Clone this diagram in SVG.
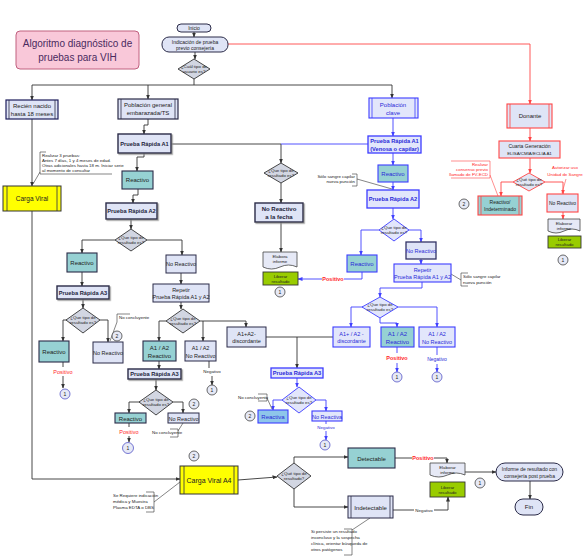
<svg xmlns="http://www.w3.org/2000/svg" width="587" height="558" viewBox="0 0 587 558">
<style>
text{font-family:"Liberation Sans",Arial,sans-serif;text-anchor:middle;fill:#222}
.s4{font-size:4.4px}.s5{font-size:5px}.s55{font-size:5.5px}.s6{font-size:6px}.s65{font-size:6.5px}
.bd{font-weight:bold;fill:#1e1e3a}
.sb{font-size:5.7px}
.tb{fill:#2a2ad8}.tr{fill:#ff1f1f}
.la{text-anchor:start}.ra{text-anchor:end}
.bx{fill:#dfe4f6;stroke:#2b2b48;stroke-width:1}
.bbx{fill:#dfe4f6;stroke:#2b2b48;stroke-width:1.4;filter:url(#sh)}
.tl{fill:#96d1d3;stroke:#2b2b48;stroke-width:1.1}
.bl{fill:#e2e6fb;stroke:#3c3cff;stroke-width:1.1}
.bltl{fill:#96d1d3;stroke:#3c3cff;stroke-width:1.1}
.rd{fill:#dfe4f6;stroke:#ff4545;stroke-width:1.1}
.dm{fill:#d2d6e2;stroke:#333;stroke-width:0.9}
.dmb{fill:#e2e6fb;stroke:#3c3cff;stroke-width:0.9}
.dmr{fill:#e2e6f4;stroke:#ff4545;stroke-width:0.9}
.gr{fill:#99cc00;stroke:#333;stroke-width:0.9}
.yl{fill:#ffff00;stroke:#333;stroke-width:1}
.dc{fill:#e6e9f6;stroke:#444;stroke-width:0.8}
.c1{fill:#e6e9f6;stroke:#5656c8;stroke-width:0.8}
.c2{fill:#e6e9f6;stroke:#444;stroke-width:0.8}
.k{fill:none;stroke:#333;stroke-width:0.9}
.kb{fill:none;stroke:#4040ff;stroke-width:0.9}
.kr{fill:none;stroke:#ff4545;stroke-width:0.9}
.an{fill:none;stroke:#333;stroke-width:0.6}
.anr{fill:none;stroke:#ff4545;stroke-width:0.6}
.ln{stroke:#2b2b48;stroke-width:0.8}
.lnb{stroke:#3c3cff;stroke-width:0.8}
.lnr{stroke:#ff4545;stroke-width:0.8}
</style>
<defs>
<filter id="sh" x="-10%" y="-10%" width="130%" height="140%"><feDropShadow dx="1.2" dy="1.2" stdDeviation="0.4" flood-color="#888" flood-opacity="0.8"/></filter>
<marker id="a" markerWidth="5" markerHeight="4" refX="4.5" refY="2" orient="auto" markerUnits="userSpaceOnUse"><path d="M0,0 L5,2 L0,4 z" fill="#333"/></marker>
<marker id="ab" markerWidth="5" markerHeight="4" refX="4.5" refY="2" orient="auto" markerUnits="userSpaceOnUse"><path d="M0,0 L5,2 L0,4 z" fill="#4040ff"/></marker>
<marker id="ar" markerWidth="5" markerHeight="4" refX="4.5" refY="2" orient="auto" markerUnits="userSpaceOnUse"><path d="M0,0 L5,2 L0,4 z" fill="#ff4545"/></marker>
</defs>
<rect width="587" height="558" fill="#fff"/>

<g id="connectors">
<path class="k" d="M194,32 V37" marker-end="url(#a)"/>
<path class="k" d="M195,52 V59" marker-end="url(#a)"/>
<path class="k" d="M194,79 V85 M32,85 H392"/>
<path class="k" d="M32,85 V100" marker-end="url(#a)"/>
<path class="k" d="M148,85 V99" marker-end="url(#a)"/>
<path class="k" d="M392,85 V98" marker-end="url(#a)"/>
<path class="kr" d="M228,44 H530 V104" marker-end="url(#ar)"/>
<path class="kr" d="M530,128 V141" marker-end="url(#ar)"/>
<path class="kr" d="M530,158 V173" marker-end="url(#ar)"/>
<path class="kr" d="M513,182 H501 V196" marker-end="url(#ar)"/>
<path class="kr" d="M545,182 H563 V194" marker-end="url(#ar)"/>
<path class="kr" d="M563,212 V219" marker-end="url(#ar)"/>
<path class="anr" d="M490,175 L498,196"/>
<path class="anr" d="M566,179 L562,193"/>
<path class="k" d="M32,119 V186" marker-end="url(#a)"/>
<path class="an" d="M40,172 L33,184"/>
<path class="k" d="M32,211 V479 H180" marker-end="url(#a)"/>
<path class="k" d="M148,119 V125 H144 V134" marker-end="url(#a)"/>
<path class="k" d="M171,144 H281 V163" marker-end="url(#a)"/>
<path class="k" d="M144,153 V157 H137 V171" marker-end="url(#a)"/>
<path class="k" d="M138,189 V195 H133 V203" marker-end="url(#a)"/>
<path class="k" d="M131,219 V229" marker-end="url(#a)"/>
<path class="k" d="M115,240 H82 V253" marker-end="url(#a)"/>
<path class="k" d="M147,240 H182 V255" marker-end="url(#a)"/>
<path class="k" d="M82,272 V286" marker-end="url(#a)"/>
<path class="k" d="M83,299 V308" marker-end="url(#a)"/>
<path class="k" d="M67,320 H63 V341" marker-end="url(#a)"/>
<path class="k" d="M100,320 H108 V342" marker-end="url(#a)"/>
<path class="an" d="M117,322 L110,341"/>
<path class="k" d="M63,362 V367 M63,376 V388" marker-end="url(#a)"/>
<path class="k" d="M181,273 V284" marker-end="url(#a)"/>
<path class="k" d="M181,302 V309" marker-end="url(#a)"/>
<path class="k" d="M166,321 H159 V341" marker-end="url(#a)"/>
<path class="k" d="M200,321 H246 V327" marker-end="url(#a)"/>
<path class="k" d="M203,321 V341" marker-end="url(#a)"/>
<path class="k" d="M159,361 V369" marker-end="url(#a)"/>
<path class="k" d="M156,379 V390" marker-end="url(#a)"/>
<path class="k" d="M140,402 H129 V413" marker-end="url(#a)"/>
<path class="k" d="M173,402 H183 V413" marker-end="url(#a)"/>
<path class="k" d="M129,423 V427 M129,436 V442" marker-end="url(#a)"/>
<path class="an" d="M178,431 L183,423"/>
<path class="k" d="M209,361 V368 M212,376 V385" marker-end="url(#a)"/>
<path class="k" d="M333,337 H266"/>
<path class="k" d="M297,337 V368" marker-end="url(#a)"/>
<path class="k" d="M281,183 V203" marker-end="url(#a)"/>
<path class="k" d="M281,222 V252" marker-end="url(#a)"/>
<path class="kb" d="M393,118 V136" marker-end="url(#ab)"/>
<path class="kb" d="M368,144 H281"/>
<path class="kb" d="M393,153 V165" marker-end="url(#ab)"/>
<path class="kb" d="M393,182 V190" marker-end="url(#ab)"/>
<path class="an" d="M357,179 L392,189"/>
<path class="kb" d="M393,208 V219" marker-end="url(#ab)"/>
<path class="kb" d="M379,230 H361 V255" marker-end="url(#ab)"/>
<path class="kb" d="M409,230 H421 V242" marker-end="url(#ab)"/>
<path class="kb" d="M362,272 V279 H298" marker-end="url(#ab)"/>
<path class="kb" d="M421,259 V264" marker-end="url(#ab)"/>
<path class="an" d="M451,274 L461,280"/>
<path class="kb" d="M422,282 V288 H380 V297" marker-end="url(#ab)"/>
<path class="kb" d="M363,307 H351 V327" marker-end="url(#ab)"/>
<path class="kb" d="M380,318 V323 H397 V327" marker-end="url(#ab)"/>
<path class="kb" d="M398,307 H437 V327" marker-end="url(#ab)"/>
<path class="kb" d="M397,347 V353 M397,363 V372" marker-end="url(#ab)"/>
<path class="kb" d="M437,347 V355 M437,364 V372" marker-end="url(#ab)"/>
<path class="kb" d="M297,378 V387" marker-end="url(#ab)"/>
<path class="kb" d="M282,400 H273 V410" marker-end="url(#ab)"/>
<path class="kb" d="M316,400 H326 V411" marker-end="url(#ab)"/>
<path class="an" d="M267,398 L272,409"/>
<path class="kb" d="M326,421 V424 M326,431 V440" marker-end="url(#ab)"/>
<path class="an" d="M154,502 L180,482"/>
<path class="k" d="M238,480 L277,477" marker-end="url(#a)"/>
<path class="k" d="M294,463 V457 H348" marker-end="url(#a)"/>
<path class="k" d="M294,489 V507 H348" marker-end="url(#a)"/>
<path class="an" d="M352,530 L370,518"/>
<path class="k" d="M395,458 H447 V463" marker-end="url(#a)"/>
<path class="k" d="M393,510 H448 V497" marker-end="url(#a)"/>
<path class="k" d="M465,472 H496" marker-end="url(#a)"/>
<path class="k" d="M530,481 V499" marker-end="url(#a)"/>
</g>

<g id="title"><rect x="16" y="31" width="123" height="38" rx="4" fill="#f9c8d9" stroke="#c0607f" stroke-width="1"/>
<text x="77.5" y="47" style="font-size:10px;fill:#4a2a5e">Algoritmo diagnóstico  de</text>
<text x="77.5" y="61" style="font-size:10px;fill:#4a2a5e">pruebas para VIH</text></g>

<g id="inicio"><rect x="177" y="24" width="34" height="8" rx="4" class="bx"/><text x="194" y="30" class="s5">Inicio</text></g>
<g id="indicacion"><rect x="162" y="37" width="66" height="15" rx="7" class="bx"/><text x="195" y="43.5" class="s5">Indicación de prueba</text><text x="195" y="49.5" class="s5">previo consejería</text></g>
<g id="d-usuario"><polygon points="194,59 210,69 194,79 178,69" class="dm"/><text x="194" y="68" class="s4">¿Cuál tipo de</text><text x="194" y="73" class="s4">usuario es?</text></g>

<g id="recien"><rect x="6" y="100" width="52" height="19" class="bx" style="stroke:#1d1d5c;stroke-width:1.2"/><line x1="9" y1="100" x2="9" y2="119" class="ln"/><line x1="55" y1="100" x2="55" y2="119" class="ln"/><text x="32" y="108" class="s6">Recién nacido</text><text x="32" y="115.5" class="s6">hasta 18 meses</text></g>
<g id="poblacion-general"><rect x="118" y="99" width="60" height="20" class="bx" style="stroke-width:1.2"/><line x1="121" y1="99" x2="121" y2="119" class="ln"/><line x1="175" y1="99" x2="175" y2="119" class="ln"/><text x="148" y="107" class="s6">Población general</text><text x="148" y="115" class="s6">embarazada/TS</text></g>
<g id="poblacion-clave"><rect x="369" y="98" width="49" height="20" class="bl"/><line x1="372" y1="98" x2="372" y2="118" class="lnb"/><line x1="415" y1="98" x2="415" y2="118" class="lnb"/><text x="393" y="106.5" class="s6 tb">Población</text><text x="393" y="114.5" class="s6 tb">clave</text></g>
<g id="donante"><rect x="507" y="104" width="45" height="24" class="rd"/><line x1="510" y1="104" x2="510" y2="128" class="lnr"/><line x1="549" y1="104" x2="549" y2="128" class="lnr"/><text x="530" y="118" class="s6">Donante</text></g>
<g id="cuarta"><rect x="499" y="141" width="61" height="17" class="rd"/><text x="529.5" y="148" class="s5">Cuarta Generación</text><text x="529.5" y="155" class="s4">ELISA/CMIA/ECLIA  A1</text></g>
<g id="d-donante"><polygon points="529,173 545,182 529,191 513,182" class="dmr"/><text x="529" y="181" class="s4">¿Qué tipo de</text><text x="529" y="186" class="s4">resultado es?</text></g>
<g id="reactivo-indet"><rect x="478" y="196" width="44" height="19" class="tl" style="stroke:#ff4545"/><line x1="481" y1="196" x2="481" y2="215" class="lnr"/><line x1="519" y1="196" x2="519" y2="215" class="lnr"/><text x="500" y="204" class="s5">Reactivo/</text><text x="500" y="211" class="s5">Indeterminado</text></g>
<g id="noreact-donante"><rect x="547" y="194" width="31" height="18" class="rd"/><text x="562.5" y="205" class="s5">No Reactivo</text></g>
<g id="informe-donante"><path d="M548,219 h32 v12 q-8,-4 -16,0 t-16,0 z" class="dc"/><text x="564" y="225" class="s4">Elaborar</text><text x="564" y="229.5" class="s4">informe</text></g>
<g id="liberar-donante"><rect x="548" y="236" width="33" height="12" class="gr"/><text x="564.5" y="241" class="s4">Liberar</text><text x="564.5" y="246" class="s4">resultado</text></g>
<g id="c1-donante"><circle cx="563" cy="260" r="5" class="c2"/><text x="563" y="262" class="s5">1</text></g>
<g id="c2-donante"><circle cx="464" cy="204" r="5" class="c2"/><text x="464" y="206" class="s5">2</text></g>
<g id="nota-consenso"><path class="anr" d="M451,161 H490 V178 H451"/><text x="488" y="166" class="s4 tr ra">Realizar</text><text x="488" y="171" class="s4 tr ra">consenso previo</text><text x="488" y="176" class="s4 tr ra">llamado de FV-ECD</text></g>
<g id="nota-autorizar"><text x="565" y="169" class="s4 tr">Autorizar uso</text><text x="565" y="175.5" class="s4 tr">Unidad de Sangre</text></g>

<g id="nota-recien"><path class="an" d="M46,152 H40 V174 H112"/><text x="42" y="156.5" class="s4 la">Realizar 3 pruebas:</text><text x="42" y="161.5" class="s4 la">Antes 7 días, 1 y 4  meses de edad.</text><text x="42" y="166.5" class="s4 la">Otras adicionales hasta 18 m. Iniciar serie</text><text x="42" y="171.5" class="s4 la">al momento de consultar</text></g>
<g id="carga-viral"><rect x="3" y="186" width="58" height="25" class="yl"/><line x1="7" y1="186" x2="7" y2="211" class="ln"/><line x1="57" y1="186" x2="57" y2="211" class="ln"/><text x="32" y="200.5" class="s65">Carga Viral</text></g>

<g id="a1-general"><rect x="118" y="134" width="53" height="19" class="bbx"/><text x="144.5" y="145.5" class="sb bd">Prueba Rápida A1</text></g>
<g id="reactivo-g1"><rect x="122" y="171" width="31" height="18" class="tl"/><text x="137.5" y="182" class="s6">Reactivo</text></g>
<g id="a2-general"><rect x="106" y="203" width="51" height="16" class="bbx"/><text x="131.5" y="213" class="sb bd">Prueba Rápida A2</text></g>
<g id="d-g2"><polygon points="131,229 147,240 131,251 115,240" class="dm"/><text x="131" y="239" class="s4">¿Que tipo de</text><text x="131" y="244" class="s4">resultado es?</text></g>
<g id="reactivo-g2"><rect x="67" y="253" width="30" height="19" class="tl"/><text x="82" y="265" class="s6">Reactivo</text></g>
<g id="noreact-g2"><rect x="166" y="255" width="30" height="18" class="bx"/><text x="181" y="266" class="s55">No Reactivo</text></g>
<g id="a3-left"><rect x="57" y="286" width="52" height="13" class="bbx"/><text x="83" y="294.5" class="sb bd">Prueba Rápida A3</text></g>
<g id="d-left"><polygon points="83,308 100,320 83,333 66,320" class="dm"/><text x="83" y="319" class="s4">¿Que tipo de</text><text x="83" y="324" class="s4">resultado es?</text></g>
<g id="reactivo-left"><rect x="39" y="341" width="30" height="21" class="tl"/><text x="54" y="354" class="s6">Reactivo</text></g>
<g id="noreact-left"><rect x="93" y="342" width="30" height="21" class="bx"/><text x="108" y="355" class="s55">No Reactivo</text></g>
<g id="nota-left"><path class="an" d="M130,314 H117 V322"/><text x="119" y="319" class="s4 la">No concluyente</text></g>
<g id="c2-left"><circle cx="117" cy="336" r="5" class="c2"/><text x="117" y="338" class="s5">2</text></g>
<g id="pos-left"><text x="63" y="374" class="s55 tr">Positivo</text></g>
<g id="c1-left"><circle cx="65" cy="394" r="5" class="c1"/><text x="65" y="396" class="s5">1</text></g>

<g id="repetir-g"><rect x="153" y="284" width="56" height="18" class="bx"/><text x="181" y="291.5" class="s55">Repetir</text><text x="181" y="298.5" class="s55">Prueba Rápida A1 y A2</text></g>
<g id="d-g3"><polygon points="183,309 200,321 183,333 166,321" class="dm"/><text x="183" y="320" class="s4">¿Que tipo de</text><text x="183" y="325" class="s4">resultado es?</text></g>
<g id="a1a2-react-g"><rect x="143" y="341" width="33" height="20" class="tl"/><text x="159.5" y="349.5" class="s6">A1 / A2</text><text x="159.5" y="357.5" class="s6">Reactivo</text></g>
<g id="a1a2-noreact-g"><rect x="185" y="341" width="31" height="20" class="bx"/><text x="200.5" y="349.5" class="s55">A1 / A2</text><text x="200.5" y="357.5" class="s55">No Reactivo</text></g>
<g id="discord-g"><rect x="227" y="327" width="39" height="20" class="bx"/><text x="246.5" y="335.5" class="s55">A1+A2-</text><text x="246.5" y="343" class="s55">discordante</text></g>
<g id="neg-g"><text x="212" y="373" class="s4">Negativo</text></g>
<g id="c1-g3"><circle cx="212" cy="390" r="5" class="c2"/><text x="212" y="392" class="s5">1</text></g>
<g id="a3-mid"><rect x="128" y="369" width="53" height="10" class="bbx"/><text x="154.5" y="376.3" class="sb bd">Prueba Rápida A3</text></g>
<g id="d-mid"><polygon points="156,390 173,402 156,415 139,402" class="dm"/><text x="156" y="401" class="s4">¿Que tipo de</text><text x="156" y="406" class="s4">resultado es?</text></g>
<g id="reactivo-mid"><rect x="115" y="413" width="31" height="10" class="tl"/><text x="130.5" y="420.5" class="s6">Reactivo</text></g>
<g id="noreact-mid"><rect x="168" y="413" width="31" height="10" class="bx"/><text x="183.5" y="420.5" class="s55">No Reactivo</text></g>
<g id="c2-mid"><circle cx="194" cy="404" r="5" class="c2"/><text x="194" y="406" class="s5">2</text></g>
<g id="pos-mid"><text x="129" y="434" class="s55 tr">Positivo</text></g>
<g id="c1-mid"><circle cx="128" cy="448" r="5.5" class="c1"/><text x="128" y="450" class="s5">1</text></g>
<g id="nota-mid"><path class="an" d="M170,429 H178 V437 H170"/><text x="152" y="434" class="s4 la">No concluyente</text></g>

<g id="d-middle"><polygon points="281,163 298,173 281,183 264,173" class="dm"/><text x="281" y="172" class="s4">¿Que tipo de</text><text x="281" y="177" class="s4">resultado es?</text></g>
<g id="noreact-fecha"><rect x="255" y="203" width="48" height="19" class="bbx"/><text x="279" y="210.5" class="s6 bd">No Reactivo</text><text x="279" y="218.5" class="s6 bd">a la fecha</text></g>
<g id="informe-mid"><path d="M263,252 h34 v15 q-8.5,-4 -17,0 t-17,0 z" class="dc"/><text x="280" y="258" class="s4">Elabora</text><text x="280" y="263" class="s4">informe</text></g>
<g id="liberar-mid"><rect x="263" y="272" width="35" height="13" class="gr"/><text x="280.5" y="277.5" class="s4">Liberar</text><text x="280.5" y="282.5" class="s4">resultado</text></g>
<g id="c1-middle"><circle cx="280" cy="292" r="5" class="c2"/><text x="280" y="294" class="s5">1</text></g>

<g id="a1-clave"><rect x="368" y="136" width="53" height="17" class="bl" style="stroke-width:1.3"/><text x="394.5" y="143" class="sb bd tb">Prueba Rápida A1</text><text x="394.5" y="150.5" class="sb bd tb">(Venosa o capilar)</text></g>
<g id="reactivo-c1"><rect x="378" y="165" width="30" height="17" class="bltl"/><text x="393" y="175.5" class="s6 tb">Reactivo</text></g>
<g id="nota-c1"><path class="an" d="M352,174 H357 V186 H352"/><text x="355" y="178" class="s4 ra">Sólo sangre capilar</text><text x="355" y="183" class="s4 ra">nueva punción</text></g>
<g id="a2-clave"><rect x="367" y="190" width="52" height="18" class="bl" style="stroke-width:1.3"/><text x="393" y="201" class="sb bd tb">Prueba Rápida A2</text></g>
<g id="d-c2"><polygon points="394,219 409,230 394,241 379,230" class="dmb"/><text x="394" y="229" class="s4">¿Que tipo de</text><text x="394" y="234" class="s4">resultado es?</text></g>
<g id="reactivo-c2"><rect x="347" y="255" width="30" height="17" class="bltl"/><text x="362" y="265.5" class="s6 tb">Reactivo</text></g>
<g id="pos-c2"><rect x="322" y="275.5" width="22" height="7" fill="#fff"/><text x="333" y="281" class="s55 tr" style="font-weight:bold">Positivo</text></g>
<g id="noreact-c2"><rect x="406" y="242" width="30" height="17" class="bx" style="stroke:#333366;stroke-width:1.3"/><text x="421" y="252.5" class="s55 tb">No Reactivo</text></g>
<g id="repetir-c"><rect x="394" y="264" width="57" height="18" class="bl"/><text x="422.5" y="271.5" class="s55 tb">Repetir</text><text x="422.5" y="278.5" class="s55 tb">Prueba Rápida A1 y A2</text></g>
<g id="nota-c2"><path class="an" d="M468,273 H461 V286 H468"/><text x="463" y="278" class="s4 la">Sólo sangre capilar</text><text x="463" y="284" class="s4 la">nueva punción</text></g>
<g id="d-c3"><polygon points="380,297 398,307 380,318 362,307" class="dmb"/><text x="380" y="306" class="s4">¿Que tipo de</text><text x="380" y="311" class="s4">resultado es?</text></g>
<g id="discord-c"><rect x="333" y="327" width="37" height="20" class="bl"/><text x="351.5" y="335.5" class="s55 tb">A1+ / A2 -</text><text x="351.5" y="343" class="s55 tb">discordante</text></g>
<g id="a1a2-react-c"><rect x="381" y="327" width="33" height="20" class="bltl"/><text x="397.5" y="335.5" class="s6 tb">A1 / A2</text><text x="397.5" y="343.5" class="s6 tb">Reactivo</text></g>
<g id="a1a2-noreact-c"><rect x="419" y="327" width="36" height="20" class="bl"/><text x="437" y="335.5" class="s55 tb">A1 / A2</text><text x="437" y="343.5" class="s55 tb">No Reactivo</text></g>
<g id="pos-c3"><text x="397" y="360" class="s55 tr" style="font-weight:bold">Positivo</text></g>
<g id="neg-c3"><text x="437" y="361" class="s5 tb">Negativo</text></g>
<g id="c1-c3a"><circle cx="397" cy="377" r="5" class="c1"/><text x="397" y="379" class="s5">1</text></g>
<g id="c1-c3b"><circle cx="437" cy="377" r="5" class="c1"/><text x="437" y="379" class="s5">1</text></g>

<g id="a3-clave"><rect x="271" y="368" width="52" height="10" class="bl" style="stroke-width:1.3"/><text x="297" y="375.3" class="sb bd tb">Prueba Rápida A3</text></g>
<g id="d-c4"><polygon points="299,387 316,400 299,413 282,400" class="dmb"/><text x="299" y="399" class="s4">¿Que tipo de</text><text x="299" y="404" class="s4">resultado es?</text></g>
<g id="reactiva-c"><rect x="258" y="410" width="30" height="13" fill="#8ec6ea" stroke="#3c3cff" stroke-width="1.1"/><text x="273" y="419" class="s6 tb">Reactiva</text></g>
<g id="noreactiva-c"><rect x="312" y="411" width="30" height="10" class="bl"/><text x="327" y="418.5" class="s55 tb">No Reactiva</text></g>
<g id="nota-c4"><path class="an" d="M258,394 H267 V401 H258"/><text x="238" y="399" class="s4 la">No concluyente</text></g>
<g id="c2-c4"><circle cx="250" cy="416" r="5" class="c2"/><text x="250" y="418" class="s5">2</text></g>
<g id="neg-c4"><text x="326" y="429" class="s4 tb">Negativo</text></g>
<g id="c1-c4"><circle cx="325" cy="445" r="5" class="c1"/><text x="325" y="447" class="s5">1</text></g>

<g id="c2-cv4"><circle cx="194" cy="456" r="5" class="c2"/><text x="194" y="458" class="s5">2</text></g>
<g id="carga-viral-a4"><rect x="180" y="466" width="58" height="28" class="yl"/><line x1="184" y1="466" x2="184" y2="494" class="ln"/><line x1="234" y1="466" x2="234" y2="494" class="ln"/><text x="209" y="482.5" style="font-size:7px">Carga Viral A4</text></g>
<g id="nota-cv4"><path class="an" d="M146,492 H154 V512 H146"/><text x="113" y="497" class="s4 la">Se Requiere indicación</text><text x="113" y="503" class="s4 la">médica y Muestra</text><text x="113" y="509" class="s4 la">Plasma EDTA o DBS</text></g>
<g id="d-cv4"><polygon points="294,463 311,476 294,489 277,476" class="dm"/><text x="294" y="475" class="s4">¿Qué tipo de</text><text x="294" y="480" class="s4">resultado?</text></g>
<g id="detectable"><rect x="348" y="448" width="47" height="20" class="tl"/><text x="371.5" y="460.5" class="s6">Detectable</text></g>
<g id="indetectable"><rect x="348" y="496" width="45" height="22" class="bx"/><line x1="351" y1="496" x2="351" y2="518" class="ln"/><line x1="390" y1="496" x2="390" y2="518" class="ln"/><text x="370.5" y="509.5" class="s6">Indetectable</text></g>
<g id="nota-indet"><path class="an" d="M344,529 H352 V555 H344"/><text x="311" y="533" class="s4 la">Si persiste un resultado</text><text x="311" y="539" class="s4 la">inconcluso y la sospecha</text><text x="311" y="545" class="s4 la">clínica, orientar búsqueda de</text><text x="311" y="551" class="s4 la">otros patógenos</text></g>
<g id="pos-final"><rect x="412" y="455" width="22" height="7" fill="#fff"/><text x="423" y="460" class="s55 tr" style="font-weight:bold">Positivo</text></g>
<g id="neg-final"><rect x="414" y="507" width="20" height="6" fill="#fff"/><text x="424" y="511.5" class="s4">Negativo</text></g>
<g id="informe-final"><path d="M430,463 h35 v12 q-8.75,-4 -17.5,0 t-17.5,0 z" class="dc"/><text x="447.5" y="469" class="s4">Elaborar</text><text x="447.5" y="474" class="s4">informe</text></g>
<g id="liberar-final"><rect x="430" y="482" width="35" height="15" class="gr"/><text x="447.5" y="488.5" class="s4">Liberar</text><text x="447.5" y="494" class="s4">resultado</text></g>
<g id="c1-final"><circle cx="480" cy="483" r="5" class="c2"/><text x="480" y="485" class="s5">1</text></g>
<g id="informe-post"><rect x="496" y="463" width="67" height="18" rx="9" class="bx"/><text x="529.5" y="470.5" class="s5">Informe de resultado con</text><text x="529.5" y="477.5" class="s5">consejería post prueba</text></g>
<g id="fin"><rect x="515" y="499" width="28" height="16" rx="8" class="bx"/><text x="529" y="509" class="s6">Fin</text></g>
</svg>
